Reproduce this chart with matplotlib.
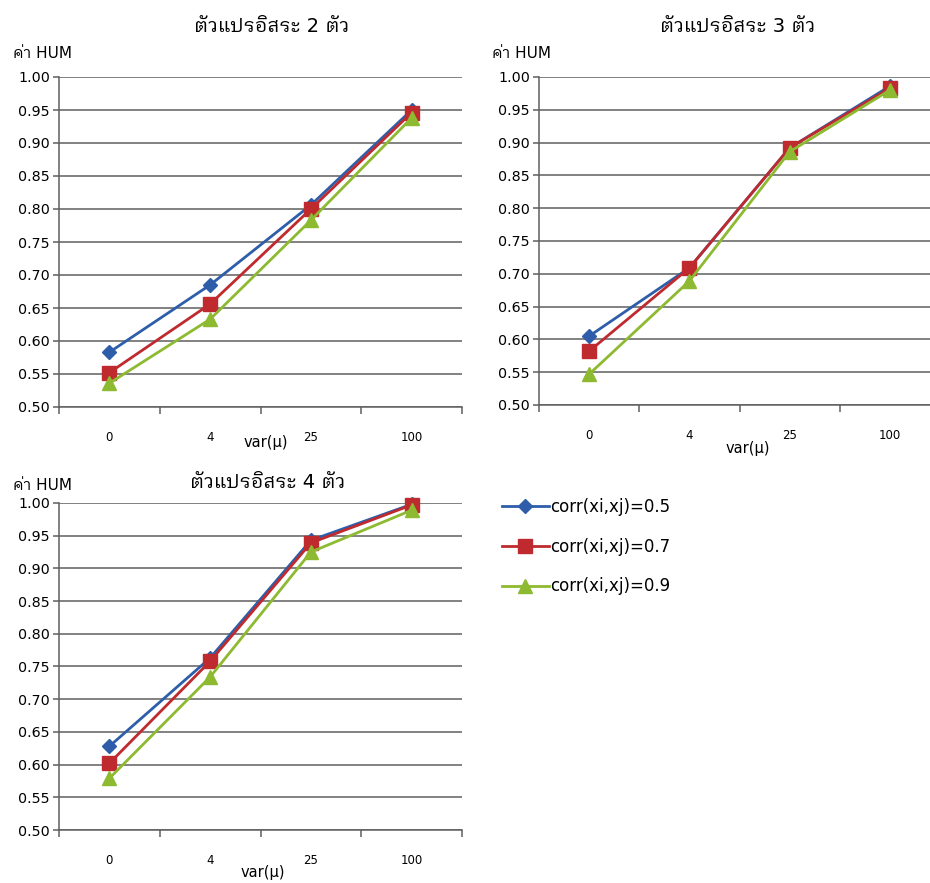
import matplotlib
matplotlib.use("Agg")
import matplotlib.pyplot as plt
from matplotlib.ticker import FixedLocator, MultipleLocator

# Latin text from DejaVu, Thai glyphs fall through to the Plex Thai face
plt.rcParams["font.family"] = ["DejaVu Sans", "IBM Plex Sans Thai Looped"]

categories = ["0", "4", "25", "100"]
series_labels = ["corr(xi,xj)=0.5", "corr(xi,xj)=0.7", "corr(xi,xj)=0.9"]

hum2_r05 = [0.583, 0.685, 0.806, 0.950]
hum2_r07 = [0.552, 0.656, 0.800, 0.946]
hum2_r09 = [0.536, 0.633, 0.783, 0.938]

hum3_r05 = [0.605, 0.709, 0.892, 0.986]
hum3_r07 = [0.582, 0.709, 0.892, 0.983]
hum3_r09 = [0.547, 0.689, 0.886, 0.980]

hum4_r05 = [0.628, 0.763, 0.943, 0.998]
hum4_r07 = [0.602, 0.758, 0.939, 0.997]
hum4_r09 = [0.579, 0.734, 0.925, 0.989]

titles = ["ตัวแปรอิสระ 2 ตัว", "ตัวแปรอิสระ 3 ตัว", "ตัวแปรอิสระ 4 ตัว"]

colors = ["#2E5EA9", "#BF2A2E", "#8DBA30"]
markers = ["D", "s", "^"]
marker_sizes = [7, 9.5, 9.5]
axis_grey = "#5f5f5f"

W, H = 930, 883
fig = plt.figure(figsize=(W / 100, H / 100), dpi=100)


def px_axes(left, top, right, bottom):
    return fig.add_axes([left / W, 1 - bottom / H, (right - left) / W, (bottom - top) / H])


def draw_panel(ax, data, title, title_xy, ylab_xy, xlab_dx, xlab_dy):
    x = range(len(categories))
    handles = []
    for vals, c, m, ms, lab in zip(data, colors, markers, marker_sizes, series_labels):
        h, = ax.plot(x, vals, color=c, lw=2.0, marker=m, markersize=ms,
                     markeredgecolor=c, label=lab, clip_on=False, zorder=3)
        handles.append(h)

    ax.set_xlim(-0.5, 3.5)
    ax.set_ylim(0.5, 1.0)
    ax.yaxis.set_major_locator(MultipleLocator(0.05))
    ax.yaxis.set_major_formatter(lambda v, _: f"{v:.2f}")
    ax.set_xticks(list(x))
    ax.set_xticklabels(categories)
    ax.xaxis.set_minor_locator(FixedLocator([-0.5, 0.5, 1.5, 2.5, 3.5]))

    ax.grid(axis="y", color=axis_grey, lw=1.1, zorder=0)
    for side in ("top", "right"):
        ax.spines[side].set_visible(False)
    for side in ("left", "bottom"):
        ax.spines[side].set_color(axis_grey)
        ax.spines[side].set_linewidth(1.1)

    ax.tick_params(axis="y", length=4.5, width=1.1, color=axis_grey,
                   labelsize=10.3, pad=2)
    ax.tick_params(axis="x", which="major", length=0, labelsize=8.5, pad=17)
    ax.tick_params(axis="x", which="minor", length=5, width=1.1,
                   color=axis_grey, direction="out")

    fig.text(title_xy[0] / W, 1 - title_xy[1] / H, title, ha="center",
             va="center", fontsize=14)
    fig.text(ylab_xy[0] / W, 1 - ylab_xy[1] / H, "ค่า HUM", ha="left",
             va="center", fontsize=11)
    ax.annotate("var(μ)", xy=(0.5, 0), xycoords="axes fraction",
                xytext=(xlab_dx, -xlab_dy), textcoords="offset pixels",
                ha="center", va="center", fontsize=10.5)
    return handles


ax1 = px_axes(59, 77, 462, 407)
ax2 = px_axes(539, 77, 940, 405)
ax3 = px_axes(59, 503, 462, 830)

handles = draw_panel(ax1, [hum2_r05, hum2_r07, hum2_r09], titles[0],
                     (272, 26), (13, 53), 5, 36)
draw_panel(ax2, [hum3_r05, hum3_r07, hum3_r09], titles[1],
           (738, 26), (492, 53), 8, 43)
draw_panel(ax3, [hum4_r05, hum4_r07, hum4_r09], titles[2],
           (268, 483), (13, 485), 2, 42)

fig.legend(handles=handles, loc="upper left",
           bbox_to_anchor=(502 / W, 1 - 498 / H), frameon=False,
           fontsize=12, handlelength=2.8, handletextpad=0.1,
           labelspacing=1.3, borderpad=0, borderaxespad=0)

fig.savefig("out.png", dpi=100)
